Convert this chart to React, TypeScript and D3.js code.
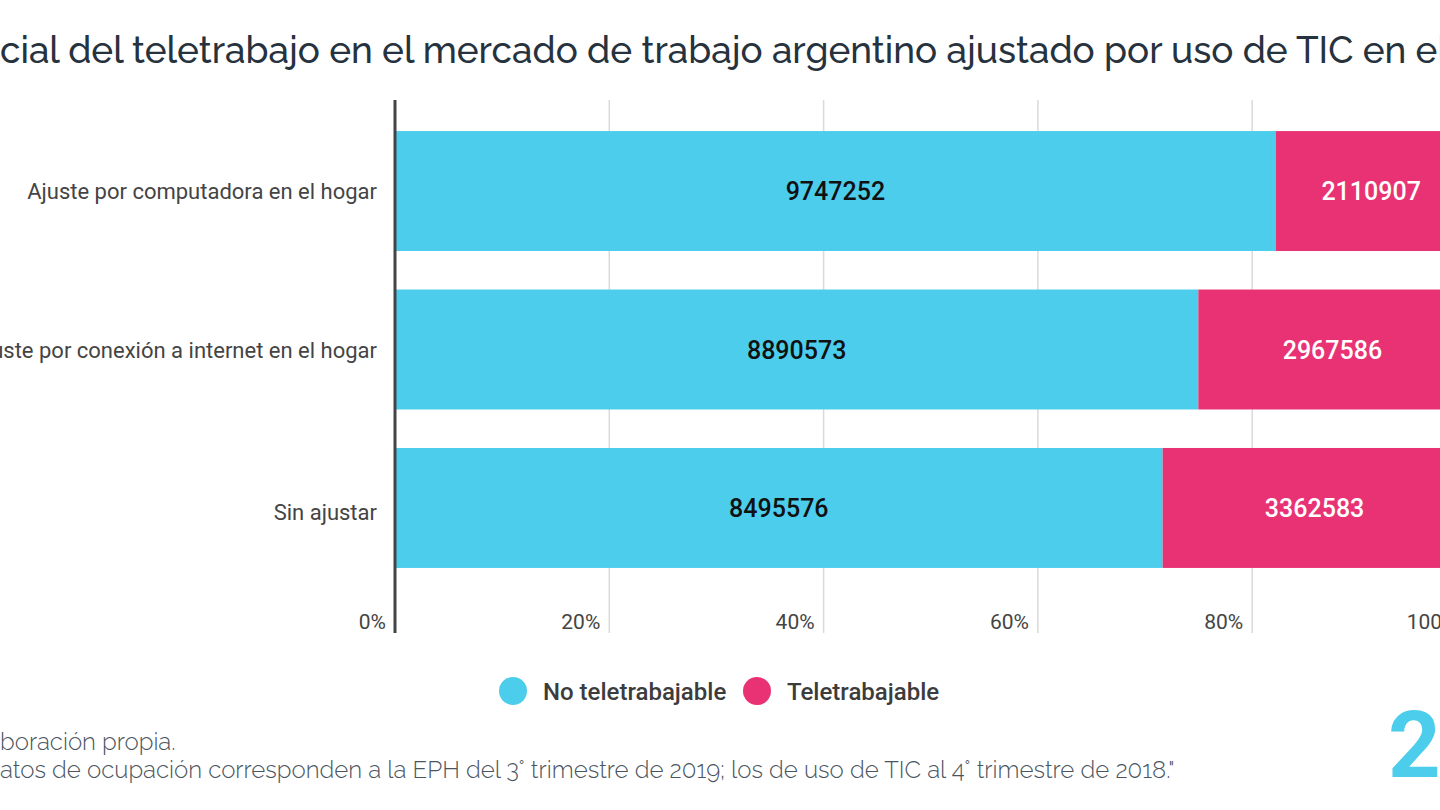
import { useEffect, useRef } from 'react'
import * as d3 from 'd3'

const categories = [
  'Ajuste por computadora en el hogar',
  'Ajuste por conexión a internet en el hogar',
  'Sin ajustar',
]
const noTeletrabajable = [9747252, 8890573, 8495576]
const teletrabajable = [2110907, 2967586, 3362583]
const seriesNames = ['No teletrabajable', 'Teletrabajable']
const xTicks = [0, 20, 40, 60, 80, 100]

const COLORS = ['#4ccdec', '#e93274']

// title and notes run past the frame on both sides, so only part of them shows
const TITLE_PRE = 'Poten'
const TITLE_VIS = 'cial del teletrabajo en el mercado de trabajo argentino ajustado por uso de TIC en e'
const TITLE_POST = 'l hogar'
const NOTE1_PRE = 'Fuente: Ela'
const NOTE1_VIS = 'boración propia.'
const NOTE2_PRE = 'Nota: "Los d'
const NOTE2_VIS = 'atos de ocupación corresponden a la EPH del 3° trimestre de 2019; los de uso de TIC al 4° trimestre de 2018."'

export default function App() {
  const ref = useRef<SVGSVGElement>(null)

  useEffect(() => {
    if (!ref.current) return
    const svg = d3.select(ref.current)
    svg.selectAll('*').remove()

    const width = 1440
    const height = 810
    svg.attr('width', width).attr('height', height).attr('viewBox', `0 0 ${width} ${height}`)

    const top = 100
    const bottom = 633

    const x = d3.scaleLinear().domain([0, 100]).range([395, 1466.5])
    const y = d3.scaleBand<string>().domain(categories).range([100, 599])
      .paddingInner(0.243).paddingOuter(0.196)

    const measure = (txt: string, size: number, family: string, weight: number | string) => {
      const t = svg.append('text').attr('font-size', size).attr('font-family', family)
        .attr('font-weight', weight).text(txt)
      const w = (t.node() as SVGTextElement).getComputedTextLength()
      t.remove()
      return w
    }

    // Title, fitted so the visible part spans the frame
    const titleFont = 'Raleway, Lato, sans-serif'
    const tw = measure(TITLE_VIS, 40, titleFont, 500)
    const tSize = 40 * 1438 / tw
    const tPre = measure(TITLE_PRE, tSize, titleFont, 500)
    svg.append('text')
      .attr('x', -tPre).attr('y', 63)
      .attr('font-family', titleFont).attr('font-size', tSize).attr('font-weight', 500)
      .attr('fill', '#26323e')
      .text(TITLE_PRE + TITLE_VIS + TITLE_POST)

    // Gridlines
    svg.append('g').selectAll('line')
      .data(xTicks.filter(d => d > 0))
      .join('line')
      .attr('x1', d => x(d)).attr('x2', d => x(d))
      .attr('y1', top).attr('y2', bottom)
      .attr('stroke', '#dadada').attr('stroke-width', 1.5)

    // Stacked bars
    const rows = categories.map((c, i) => {
      const total = noTeletrabajable[i] + teletrabajable[i]
      const p0 = noTeletrabajable[i] / total * 100
      return [
        { cat: c, s: 0, v: noTeletrabajable[i], x0: 0, x1: p0 },
        { cat: c, s: 1, v: teletrabajable[i], x0: p0, x1: 100 },
      ]
    }).flat()

    svg.append('g').selectAll('rect')
      .data(rows)
      .join('rect')
      .attr('x', d => x(d.x0))
      .attr('y', d => y(d.cat)!)
      .attr('width', d => x(d.x1) - x(d.x0))
      .attr('height', y.bandwidth())
      .attr('fill', d => COLORS[d.s])

    svg.append('g').selectAll('text')
      .data(rows)
      .join('text')
      .attr('x', d => (x(d.x0) + x(d.x1)) / 2)
      .attr('y', d => y(d.cat)! + y.bandwidth() / 2 + 9)
      .attr('text-anchor', 'middle')
      .attr('font-family', 'Roboto, sans-serif')
      .attr('font-size', 25).attr('font-weight', 500)
      .attr('fill', d => d.s === 0 ? '#111111' : '#ffffff')
      .text(d => d.v)

    // Axis line
    svg.append('line')
      .attr('x1', x(0)).attr('x2', x(0))
      .attr('y1', top).attr('y2', bottom)
      .attr('stroke', '#444444').attr('stroke-width', 3)

    // Category labels
    svg.append('g').selectAll('text')
      .data(categories)
      .join('text')
      .attr('x', 377)
      .attr('y', (d, i) => y(d)! + y.bandwidth() / 2 + 8 + (i === 2 ? 4 : 0))
      .attr('text-anchor', 'end')
      .attr('font-family', 'Roboto, sans-serif')
      .attr('font-size', 22)
      .attr('fill', '#444444')
      .text(d => d)

    // Tick labels
    svg.append('g').selectAll('text')
      .data(xTicks)
      .join('text')
      .attr('x', d => x(d) - 9)
      .attr('y', 629)
      .attr('text-anchor', 'end')
      .attr('font-family', 'Roboto, sans-serif')
      .attr('font-size', 21)
      .attr('fill', '#444444')
      .text(d => `${d}%`)

    // Legend
    const legendX = [513, 757]
    seriesNames.forEach((n, i) => {
      svg.append('circle')
        .attr('cx', legendX[i]).attr('cy', 691).attr('r', 14)
        .attr('fill', COLORS[i])
      svg.append('text')
        .attr('x', legendX[i] + 30).attr('y', 700)
        .attr('font-family', 'Roboto, sans-serif')
        .attr('font-size', 24).attr('font-weight', 500)
        .attr('fill', '#3c3c3c')
        .text(n)
    })

    // Notes
    const noteFont = 'Raleway, Lato, sans-serif'
    const nw = measure(NOTE2_VIS, 21, noteFont, 300)
    const nSize = 21 * 1175 / nw
    const n1Pre = measure(NOTE1_PRE, nSize, noteFont, 300)
    const n2Pre = measure(NOTE2_PRE, nSize, noteFont, 300)
    svg.append('text')
      .attr('x', -n1Pre).attr('y', 750)
      .attr('font-family', noteFont).attr('font-size', nSize).attr('font-weight', 300)
      .attr('fill', '#4a5560')
      .text(NOTE1_PRE + NOTE1_VIS)
    svg.append('text')
      .attr('x', -n2Pre).attr('y', 778)
      .attr('font-family', noteFont).attr('font-size', nSize).attr('font-weight', 300)
      .attr('fill', '#4a5560')
      .text(NOTE2_PRE + NOTE2_VIS)

    // Page number
    svg.append('text')
      .attr('x', 1388).attr('y', 777)
      .attr('font-family', 'Roboto, sans-serif')
      .attr('font-size', 92).attr('font-weight', 700)
      .attr('fill', COLORS[0])
      .text('2')
  }, [])

  return (
    <div style={{ position: 'fixed', left: 0, top: 0, width: 1440, height: 810, background: '#ffffff', overflow: 'hidden' }}>
      <svg ref={ref} style={{ display: 'block' }} />
    </div>
  )
}
